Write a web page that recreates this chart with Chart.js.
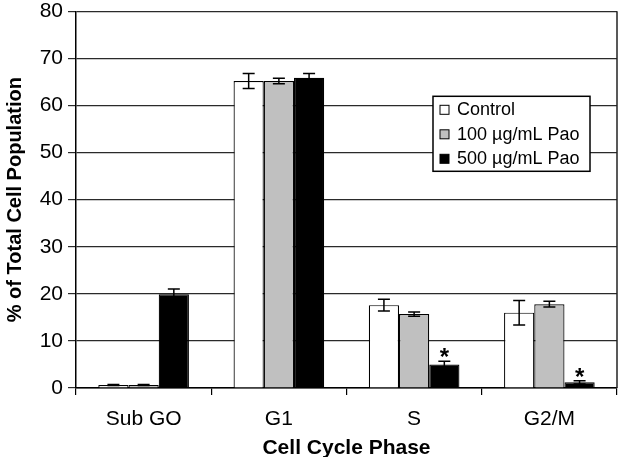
<!DOCTYPE html>
<html>
<head>
<meta charset="utf-8">
<script src="https://cdn.jsdelivr.net/npm/chart.js@4.4.0/dist/chart.umd.min.js"></script>
<style>
  html, body { margin: 0; padding: 0; background: #fff; }
</style>
</head>
<body>
<canvas id="chart" width="623" height="457"></canvas>
<script>
// data
const categories = ['Sub GO', 'G1', 'S', 'G2/M'];
const seriesNames = ['Control', '100 µg/mL Pao', '500 µg/mL Pao'];
const controlValues = [0.65, 65.2, 17.6, 16.0];
const pao100Values = [0.65, 65.2, 15.7, 17.8];
const pao500Values = [19.9, 65.9, 5.0, 1.2];
const controlErrors = [0.1, 1.6, 1.25, 2.6];
const pao100Errors = [0.1, 0.6, 0.45, 0.6];
const pao500Errors = [1.1, 0.9, 0.7, 0.35];
const pao500Starred = [false, false, true, true];
const yMin = 0;
const yMax = 80;
const yStep = 10;

const FONT = "'Liberation Sans', Arial, sans-serif";

const errorBars = {
    id: 'errorBars',
    afterDatasetsDraw(chart) {
        const ctx = chart.ctx;
        const y = chart.scales.y;
        ctx.save();
        chart.data.datasets.forEach((ds, i) => {
            const meta = chart.getDatasetMeta(i);
            meta.data.forEach((bar, j) => {
                const v = ds.data[j];
                const e = ds.errors[j];
                const top = y.getPixelForValue(v + e);
                const bot = y.getPixelForValue(v - e);
                ctx.strokeStyle = '#000';
                ctx.lineWidth = 1.5;
                ctx.beginPath();
                ctx.moveTo(bar.x, top);
                ctx.lineTo(bar.x, bot);
                ctx.moveTo(bar.x - 6, top);
                ctx.lineTo(bar.x + 6, top);
                ctx.moveTo(bar.x - 6, bot);
                ctx.lineTo(bar.x + 6, bot);
                ctx.stroke();
                if (ds.starred && ds.starred[j]) {
                    ctx.fillStyle = '#000';
                    ctx.font = 'bold 24px ' + FONT;
                    ctx.textAlign = 'center';
                    ctx.textBaseline = 'alphabetic';
                    ctx.fillText('*', bar.x, top + 4);
                }
            });
        });
        ctx.restore();
    }
};

// right frame line + legend box
const frameAndLegend = {
    id: 'frameAndLegend',
    afterDraw(chart) {
        const ctx = chart.ctx;
        const area = chart.chartArea;
        ctx.save();
        ctx.strokeStyle = '#222';
        ctx.lineWidth = 1.5;
        ctx.beginPath();
        ctx.moveTo(area.right, area.top);
        ctx.lineTo(area.right, area.bottom);
        ctx.stroke();

        const bx = area.right - 184;
        const by = area.top + 85;
        const bw = 157;
        const bh = 75;
        ctx.fillStyle = '#fff';
        ctx.fillRect(bx, by, bw, bh);
        ctx.strokeStyle = '#000';
        ctx.lineWidth = 1.5;
        ctx.strokeRect(bx, by, bw, bh);

        ctx.font = '18px ' + FONT;
        ctx.textAlign = 'left';
        ctx.textBaseline = 'middle';
        chart.data.datasets.forEach((ds, i) => {
            const cy = by + 13 + i * 24.5;
            ctx.fillStyle = ds.backgroundColor;
            ctx.fillRect(bx + 7, cy - 4, 9, 9);
            ctx.lineWidth = 1;
            ctx.strokeStyle = '#000';
            ctx.strokeRect(bx + 7, cy - 4, 9, 9);
            ctx.fillStyle = '#000';
            ctx.fillText(ds.label, bx + 24, cy + 1);
        });
        ctx.restore();
    }
};

const config = {
    type: 'bar',
    data: {
        labels: categories,
        datasets: [
            { label: seriesNames[0], data: controlValues, errors: controlErrors,
              backgroundColor: '#ffffff', borderColor: '#000', borderWidth: 1.2 },
            { label: seriesNames[1], data: pao100Values, errors: pao100Errors,
              backgroundColor: '#c0c0c0', borderColor: '#000', borderWidth: 1.2 },
            { label: seriesNames[2], data: pao500Values, errors: pao500Errors, starred: pao500Starred,
              backgroundColor: '#000000', borderColor: '#000', borderWidth: 1.2 }
        ]
    },
    options: {
        responsive: false,
        animation: false,
        categoryPercentage: 0.67,
        barPercentage: 1.0,
        layout: { padding: { top: 0, right: 6, left: 0, bottom: 0 } },
        plugins: {
            legend: { display: false },
            tooltip: { enabled: false }
        },
        scales: {
            x: {
                offset: true,
                grid: { offset: true, drawOnChartArea: false, drawTicks: true, tickLength: 7, color: '#000', lineWidth: 1.2 },
                border: { display: true, color: '#000', width: 1.5 },
                ticks: { color: '#000', padding: 12, font: { family: FONT, size: 21 } },
                title: { display: true, text: 'Cell Cycle Phase', color: '#000',
                         font: { family: FONT, size: 21, weight: 'bold', lineHeight: 0.85 }, padding: { top: 0, bottom: 0 } },
                afterFit(scale) { scale.height = 69; }
            },
            y: {
                min: yMin,
                max: yMax,
                grid: { color: '#2a2a2a', lineWidth: 1.2, tickLength: 8 },
                border: { display: true, color: '#000', width: 1.5 },
                ticks: { stepSize: yStep, color: '#000', padding: 5, font: { family: FONT, size: 21, lineHeight: 0.6 } },
                title: { display: true, text: '% of Total Cell Population', color: '#000',
                         font: { family: FONT, size: 20, weight: 'bold', lineHeight: 1.0 }, padding: { top: 5, bottom: 0 } },
                afterFit(scale) { scale.width = 76; }
            }
        }
    },
    plugins: [errorBars, frameAndLegend]
};

new Chart(document.getElementById('chart'), config);
</script>
</body>
</html>
